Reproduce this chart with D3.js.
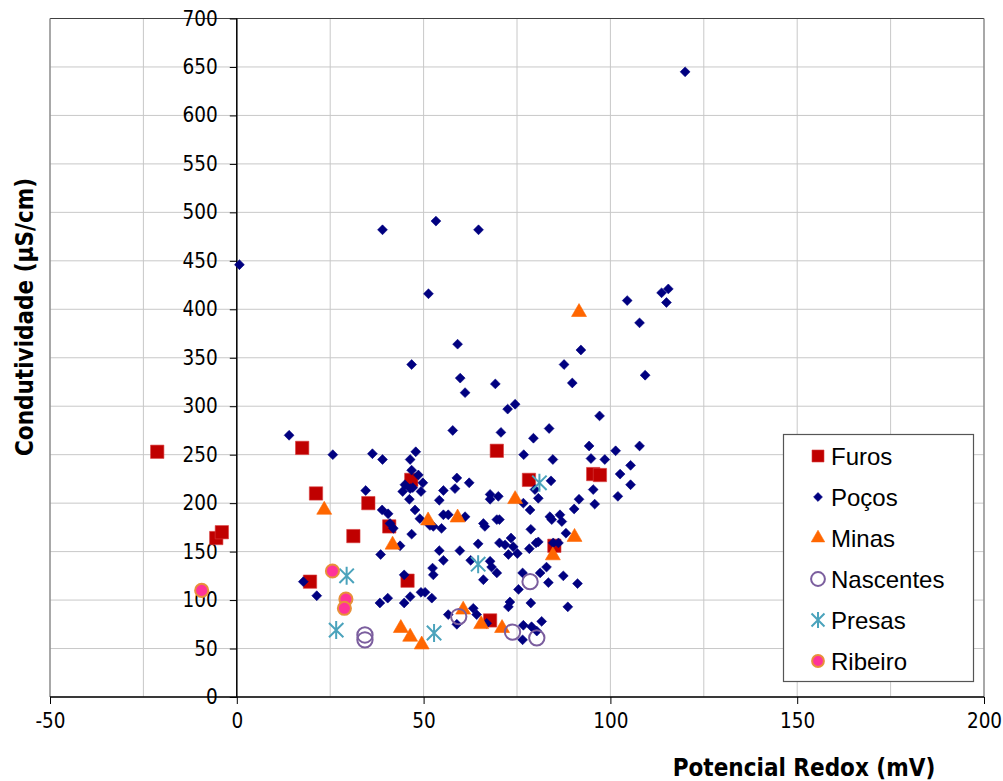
<!DOCTYPE html>
<html>
<head>
<meta charset="utf-8">
<script src="https://cdn.jsdelivr.net/npm/d3@7"></script>
<style>
  body { margin: 0; background: #fff; }
  .tick text { font-family: "DejaVu Sans Condensed", "DejaVu Sans", sans-serif; }
</style>
</head>
<body>
<svg id="chart" width="1003" height="781"></svg>
<script>
// valores: [potencial redox (mV), condutividade (uS/cm)]
var furos = [[-21.3,253],[-5.5,164],[-4,170],[17.5,257],[21.2,210],[19.6,119],[31.2,166],[35.2,200],
  [40.8,176],[46.7,224],[45.7,120],[69.6,254],[78.2,224],[67.8,79],[85,156],[95.4,230],[97.2,229]];

var pocos = [[0.7,446],[120,645],[39,482],[53.3,491],[64.7,482],[51.3,416],[104.5,409],[113.7,417],
  [115.5,421],[115,407],[107.8,386],[92.1,358],[87.6,343],[109.3,332],[89.8,324],[97.1,290],[94.3,259],
  [107.8,259],[101.4,254],[94.8,246],[98.5,245],[105.4,239],[102.6,230],[95.4,214],[105.4,219],[91.6,204],
  [95.8,199],[102,207],[90.3,194],[86.5,188],[87,181],[88.1,169],[87.4,125],[91.2,117],[88.6,93],
  [59.1,364],[46.8,343],[59.8,329],[61.1,314],[69.2,323],[72.5,297],[74.5,302],[57.8,275],[70.7,273],
  [79.4,267],[83.6,277],[14,270],[25.7,250],[36.3,251],[39,245],[46.4,245],[47.9,253],[76.8,250],[84.6,245],
  [46.8,234],[48.6,229],[49.8,221],[45,219],[46.4,215],[44.4,212],[49.3,212],[34.5,213],[46.2,204],[47.1,216],
  [58.9,226],[58.4,215],[55.3,213],[62.2,221],[54.2,203],[67.8,209],[67.8,204],[70,207],[76.7,200],[78.5,193],
  [79.8,214],[80.7,205],[84.1,223],[83.8,186],[84.3,183],[38.9,193],[40.5,189],[47.7,193],[49,184],[41,179],
  [41.9,174],[51.7,177],[52.6,176],[54.8,174],[55.3,188],[56.6,188],[61.1,186],[66,179],[66.4,176],[69.6,183],
  [70.3,183],[78.7,173],[46.8,168],[43.7,156],[38.5,147],[54.2,151],[55.3,141],[59.7,151],[52.4,133],[52.6,126],
  [64.6,158],[70.3,159],[71.8,157],[73.4,164],[74,155],[72.7,147],[75.1,148],[78.3,153],[80.1,159],[80.7,160],
  [84.7,159],[86.1,159],[67.8,140],[68.2,134],[66,121],[69.6,128],[62.6,141],[82.9,134],[81.2,128],[76.5,128],
  [75.4,111],[83.4,118],[78.7,97],[73.1,98],[72.7,93],[44.8,126],[17.8,119],[21.4,104.5],[38.3,97],[40.4,102],
  [44.8,97],[46.4,103.5],[49.3,108],[50.4,108],[52.2,102],[56.6,85],[58.9,75],[63.3,91.5],[64.2,85],[66.9,76],
  [76.7,74],[78.9,72.5],[81.6,78],[80.3,68],[76.5,59]];

var minas = [[91.6,397],[23.4,193],[41.7,157],[51.2,182],[59.1,185],[74.5,204],[84.6,146],[90.4,165],
  [43.9,71],[46.4,62],[49.5,54],[60.6,90],[65.4,75],[71,71]];

var nascentes = [[34.3,64],[34.3,59],[59.4,83],[78.5,119],[73.8,67],[80.3,61]];

var presas = [[29.4,125],[26.6,69],[52.8,66],[64.6,137],[81,221]];

var ribeiro = [[25.6,130],[29.2,101],[28.8,91.5],[-9.4,110]];

var xTicks = [-50, 0, 50, 100, 150, 200];
var yTicks = [0, 50, 100, 150, 200, 250, 300, 350, 400, 450, 500, 550, 600, 650, 700];
var xGrid = [-50, -25, 0, 25, 50, 75, 100, 125, 150, 175, 200];

var series = [
  {nome: "Furos", dados: furos},
  {nome: "Poços", dados: pocos},
  {nome: "Minas", dados: minas},
  {nome: "Nascentes", dados: nascentes},
  {nome: "Presas", dados: presas},
  {nome: "Ribeiro", dados: ribeiro}
];

var svg = d3.select("#chart");
var pLeft = 50, pRight = 984, pTop = 18.5, pBottom = 697;

var x = d3.scaleLinear().domain([-50, 200]).range([pLeft, pRight]);
var y = d3.scaleLinear().domain([0, 700]).range([pBottom, pTop]);

// asterisco como no Excel (vertical + X)
function asterisco(r) {
  var c = r * 0.8;
  return "M0," + (-r) + "L0," + r +
    "M" + (-c) + "," + (-c) + "L" + c + "," + c +
    "M" + (-c) + "," + c + "L" + c + "," + (-c);
}

function marcador(sel, nome, escala) {
  var k = escala || 1;
  if (nome == "Furos") {
    sel.attr("d", d3.symbol().type(d3.symbolSquare).size(178 * k * k))
      .attr("fill", "#C00000").attr("stroke", "#D84040").attr("stroke-width", 0.6);
  } else if (nome == "Poços") {
    sel.attr("d", d3.symbol().type(d3.symbolDiamond2).size(62 * k * k))
      .attr("fill", "#000080").attr("stroke", "#000080").attr("stroke-width", 0.6);
  } else if (nome == "Minas") {
    sel.attr("d", d3.symbol().type(d3.symbolTriangle2).size(160 * k * k))
      .attr("fill", "#FF6600").attr("stroke", "#FF6600").attr("stroke-width", 0.6);
  } else if (nome == "Nascentes") {
    sel.attr("d", d3.symbol().type(d3.symbolCircle).size(185 * k * k))
      .attr("fill", "none").attr("stroke", "#7B5E9E").attr("stroke-width", 2);
  } else if (nome == "Presas") {
    sel.attr("d", asterisco(9 * k))
      .attr("fill", "none").attr("stroke", "#4BA3BC").attr("stroke-width", 2);
  } else if (nome == "Ribeiro") {
    sel.attr("d", d3.symbol().type(d3.symbolCircle).size(135 * k * k))
      .attr("fill", "#FF3399").attr("stroke", "#E8903A").attr("stroke-width", 2);
  }
}

// grelha
svg.append("g").selectAll("line").data(xGrid).enter().append("line")
  .attr("x1", function(d){ return x(d); }).attr("x2", function(d){ return x(d); })
  .attr("y1", pTop).attr("y2", pBottom)
  .attr("stroke", "#c8c8c8").attr("stroke-width", 1);

svg.append("g").selectAll("line").data(yTicks).enter().append("line")
  .attr("x1", pLeft).attr("x2", pRight)
  .attr("y1", function(d){ return y(d); }).attr("y2", function(d){ return y(d); })
  .attr("stroke", "#c8c8c8").attr("stroke-width", 1);

// moldura da area do grafico
svg.append("line").attr("x1", pLeft).attr("x2", pRight).attr("y1", pTop).attr("y2", pTop)
  .attr("stroke", "#404040").attr("stroke-width", 1.2);
svg.append("line").attr("x1", pLeft).attr("x2", pLeft).attr("y1", pTop).attr("y2", pBottom)
  .attr("stroke", "#808080").attr("stroke-width", 1.2);
svg.append("line").attr("x1", pRight).attr("x2", pRight).attr("y1", pTop).attr("y2", pBottom)
  .attr("stroke", "#808080").attr("stroke-width", 1.2);

// eixos (cruzam em 0)
var fmt = function(d){ return String(d); };
var eixoX = svg.append("g").attr("transform", "translate(0," + y(0) + ")")
  .call(d3.axisBottom(x).tickValues(xTicks).tickFormat(fmt).tickSize(7).tickPadding(9));
var eixoY = svg.append("g").attr("transform", "translate(" + x(0) + ",0)")
  .call(d3.axisLeft(y).tickValues(yTicks).tickFormat(fmt).tickSize(7).tickPadding(12));

[eixoX, eixoY].forEach(function(g) {
  g.select(".domain").attr("stroke", "#000").attr("stroke-width", 1.5);
  g.selectAll(".tick line").attr("stroke", "#000");
  g.selectAll(".tick text").attr("font-size", "20.5px").attr("fill", "#000");
});
eixoX.select(".domain").attr("d", "M" + pLeft + ",0H" + pRight);
eixoY.select(".domain").attr("d", "M0," + pTop + "V" + pBottom);

// pontos
series.forEach(function(s) {
  svg.append("g").selectAll("path").data(s.dados).enter().append("path")
    .attr("transform", function(d){ return "translate(" + x(d[0]) + "," + y(d[1]) + ")"; })
    .call(marcador, s.nome);
});

// titulos dos eixos
svg.append("text")
  .attr("x", 804).attr("y", 776)
  .attr("text-anchor", "middle")
  .attr("font-family", "'DejaVu Sans Condensed', 'DejaVu Sans', sans-serif")
  .attr("font-weight", "bold").attr("font-size", "24px")
  .text("Potencial Redox (mV)");

svg.append("text")
  .attr("transform", "translate(33,317) rotate(-90)")
  .attr("text-anchor", "middle")
  .attr("font-family", "'DejaVu Sans Condensed', 'DejaVu Sans', sans-serif")
  .attr("font-weight", "bold").attr("font-size", "24px")
  .text("Condutividade (µS/cm)");

// legenda
var leg = svg.append("g");
leg.append("rect").attr("x", 783.5).attr("y", 434.5).attr("width", 190).attr("height", 247)
  .attr("fill", "#fff").attr("stroke", "#555").attr("stroke-width", 1.2);

var linhas = leg.selectAll("g.item").data(series).enter().append("g")
  .attr("class", "item")
  .attr("transform", function(d, i){ return "translate(818," + (456 + i * 41) + ")"; });

linhas.append("path").each(function(d) {
  d3.select(this).call(marcador, d.nome, 0.9);
});
linhas.append("text")
  .attr("x", 13).attr("y", 8.5)
  .attr("font-family", "'Liberation Sans', Arial, sans-serif")
  .attr("font-size", "24px")
  .text(function(d){ return d.nome; });
</script>
</body>
</html>
